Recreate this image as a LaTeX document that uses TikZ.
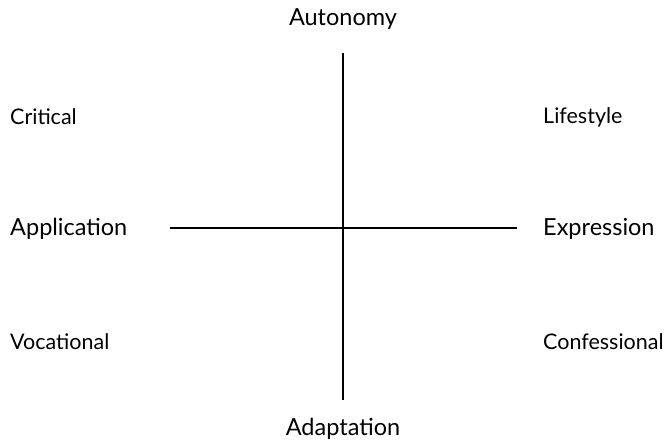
\documentclass[tikz,border=0pt]{standalone}
\usepackage{fontspec}
\setmainfont{Lato}
\usetikzlibrary{positioning}
\tikzset{
  axislabel/.style={font=\fontsize{23.5}{26}\selectfont, inner sep=0pt},
  cornerlabel/.style={font=\fontsize{21.5}{24}\selectfont, inner sep=0pt, anchor=west},
  axisline/.style={line width=1.6pt, black},
}

\begin{document}
\begin{tikzpicture}[x=1pt, y=-1pt]
    \useasboundingbox (0,0) rectangle (668,441);

    \node[axislabel] (aut) at (343,19)  {Autonomy};
    \node[axislabel] (ada) at (343,429) {Adaptation};
    \node[axislabel, anchor=west] (app) at (10,229)  {Application};
    \node[axislabel, anchor=west] (exp) at (543,229) {Expression};

    \node[cornerlabel] (cri) at (10,117)  {Critical};
    \node[cornerlabel] (lif) at (543,117) {Lifestyle};
    \node[cornerlabel] (voc) at (10,342)  {Vocational};
    \node[cornerlabel] (con) at (543,342) {Confessional};

    \coordinate (top) at (343,53);
    \coordinate (bot) at (343,400);
    \coordinate (lft) at (170,228);
    \coordinate (rgt) at (517,228);

    \draw[axisline] (top) -- (bot);
    \draw[axisline] (lft) -- (rgt);
  \end{tikzpicture}
\end{document}
